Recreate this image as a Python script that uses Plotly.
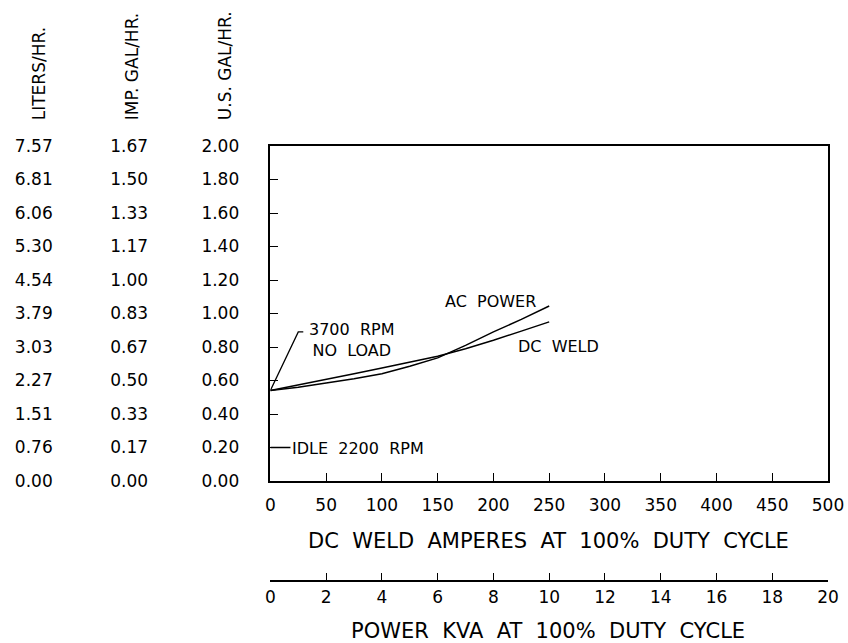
import plotly.graph_objects as go

# ---------------- data ----------------
amps = [0, 25, 50, 75, 100, 125, 150, 175, 200, 225, 250]
dc_weld = [0.54, 0.572, 0.605, 0.64, 0.675, 0.71, 0.745, 0.79, 0.84, 0.895, 0.95]
ac_power = [0.54, 0.56, 0.585, 0.61, 0.64, 0.685, 0.735, 0.81, 0.89, 0.965, 1.045]

us_gal_ticks = [0.0, 0.2, 0.4, 0.6, 0.8, 1.0, 1.2, 1.4, 1.6, 1.8, 2.0]
us_gal_labels = ["0.00", "0.20", "0.40", "0.60", "0.80", "1.00", "1.20", "1.40", "1.60", "1.80", "2.00"]
imp_gal_labels = ["0.00", "0.17", "0.33", "0.50", "0.67", "0.83", "1.00", "1.17", "1.33", "1.50", "1.67"]
liters_labels = ["0.00", "0.76", "1.51", "2.27", "3.03", "3.79", "4.54", "5.30", "6.06", "6.81", "7.57"]
amp_ticks = [0, 50, 100, 150, 200, 250, 300, 350, 400, 450, 500]
kva_ticks = [0, 2, 4, 6, 8, 10, 12, 14, 16, 18, 20]

headers = ["LITERS/HR.", "IMP.\u00a0GAL/HR.", "U.S.\u00a0GAL/HR."]
x_title = "DC\u00a0\u00a0WELD\u00a0\u00a0AMPERES\u00a0\u00a0AT\u00a0\u00a0100%\u00a0\u00a0DUTY\u00a0\u00a0CYCLE"
x2_title = "POWER\u00a0\u00a0KVA\u00a0\u00a0AT\u00a0\u00a0100%\u00a0\u00a0DUTY\u00a0\u00a0CYCLE"

# in-plot labels (text, x amps, y US gal/hr)
label_text = ["AC\u00a0\u00a0POWER", "DC\u00a0\u00a0WELD", "3700\u00a0\u00a0RPM<br>NO\u00a0\u00a0LOAD", "IDLE\u00a0\u00a02200\u00a0\u00a0RPM"]
label_x = [197, 221, 73, 18.5]
label_y = [1.072, 0.806, 0.84, 0.195]
label_anchor = ["center", "left", "center", "left"]

# leader lines (x amps, y US gal/hr)
leader_noload_x = [0, 25, 29.5]
leader_noload_y = [0.54, 0.89, 0.89]
leader_idle_x = [0, 18]
leader_idle_y = [0.2, 0.2]

# ---------------- layout geometry ----------------
W, H = 848, 643
ML, MR, MT, MB = 0, 20, 146, 62
PW = W - ML - MR
PH = H - MT - MB


def px_x(px):
    return (px - ML) / PW


def px_y(py):
    return (H - MB - py) / PH


FONT = "DejaVu Sans, sans-serif"
BLACK = "#000000"

fig = go.Figure()

fig.add_trace(go.Scatter(x=amps, y=ac_power, mode="lines", name="AC POWER",
                         line=dict(color=BLACK, width=1.5), xaxis="x", yaxis="y"))
fig.add_trace(go.Scatter(x=amps, y=dc_weld, mode="lines", name="DC WELD",
                         line=dict(color=BLACK, width=1.5), xaxis="x", yaxis="y"))

# leader lines
fig.add_trace(go.Scatter(x=leader_noload_x, y=leader_noload_y, mode="lines",
                         line=dict(color=BLACK, width=1.3), hoverinfo="skip", xaxis="x", yaxis="y"))
fig.add_trace(go.Scatter(x=leader_idle_x, y=leader_idle_y, mode="lines",
                         line=dict(color=BLACK, width=1.3), hoverinfo="skip", xaxis="x", yaxis="y"))

# empty traces to bind the extra axes
fig.add_trace(go.Scatter(x=kva_ticks, y=[None] * len(kva_ticks), mode="lines",
                         hoverinfo="skip", xaxis="x2", yaxis="y"))
fig.add_trace(go.Scatter(x=[None] * len(us_gal_ticks), y=us_gal_ticks, mode="lines",
                         hoverinfo="skip", xaxis="x", yaxis="y2"))
fig.add_trace(go.Scatter(x=[None] * len(us_gal_ticks), y=us_gal_ticks, mode="lines",
                         hoverinfo="skip", xaxis="x", yaxis="y3"))

tick_font = dict(family=FONT, size=17, color=BLACK)
x_dom = [px_x(267), 1]
y_dom = [px_y(481), 1]

fig.update_layout(
    width=W, height=H,
    margin=dict(l=ML, r=MR, t=MT, b=MB, pad=0),
    paper_bgcolor="white", plot_bgcolor="white",
    showlegend=False,
    font=dict(family=FONT, color=BLACK),
    xaxis=dict(domain=x_dom, range=[0, 500], tickvals=amp_ticks, ticktext=[str(v) for v in amp_ticks],
               ticks="inside", ticklen=8, tickwidth=1.3, tickcolor=BLACK,
               showline=True, linewidth=1.5, linecolor=BLACK, mirror=True,
               showgrid=False, zeroline=False, tickfont=tick_font, ticklabelstandoff=8),
    xaxis2=dict(overlaying="x", anchor="free", position=0, side="bottom", range=[0, 20],
                tickvals=kva_ticks, ticktext=[str(v) for v in kva_ticks],
                ticks="inside", ticklen=7, tickwidth=1.3, tickcolor=BLACK,
                showline=True, linewidth=1.5, linecolor=BLACK,
                showgrid=False, zeroline=False, tickfont=tick_font, ticklabelstandoff=1),
    yaxis=dict(domain=y_dom, range=[0, 2], tickvals=us_gal_ticks, ticktext=us_gal_labels,
               ticks="inside", ticklen=8, tickwidth=1.3, tickcolor=BLACK,
               showline=True, linewidth=1.5, linecolor=BLACK, mirror=True,
               showgrid=False, zeroline=False, tickfont=tick_font, ticklabelstandoff=26),
    yaxis2=dict(overlaying="y", anchor="free", position=px_x(48), side="left", range=[0, 2],
                tickvals=us_gal_ticks, ticktext=liters_labels, ticks="", showline=False,
                showgrid=False, zeroline=False, tickfont=tick_font),
    yaxis3=dict(overlaying="y", anchor="free", position=px_x(144), side="left", range=[0, 2],
                tickvals=us_gal_ticks, ticktext=imp_gal_labels, ticks="", showline=False,
                showgrid=False, zeroline=False, tickfont=tick_font),
)

annotations = []
# column headers (rotated)
for txt, cx in zip(headers, [35, 128, 222]):
    annotations.append(dict(text=txt, textangle=-90, xref="paper", yref="paper",
                            x=px_x(cx), y=px_y(122), xanchor="center", yanchor="bottom",
                            showarrow=False, font=dict(family=FONT, size=17, color=BLACK)))
# axis titles
annotations.append(dict(text=x_title, xref="paper", yref="paper", x=px_x((267 + 828) / 2 - 1),
                        y=px_y(541), xanchor="center", yanchor="middle", showarrow=False,
                        font=dict(family=FONT, size=21, color=BLACK)))
annotations.append(dict(text=x2_title, xref="paper", yref="paper", x=px_x((267 + 828) / 2 - 1),
                        y=px_y(631), xanchor="center", yanchor="middle", showarrow=False,
                        font=dict(family=FONT, size=21, color=BLACK)))
# in-plot labels
for t, xv, yv, anc in zip(label_text, label_x, label_y, label_anchor):
    annotations.append(dict(text=t, x=xv, y=yv, xref="x", yref="y", xanchor=anc, yanchor="middle",
                            align="center", showarrow=False, borderpad=0,
                            font=dict(family=FONT, size=16, color=BLACK)))

fig.update_layout(annotations=annotations)

fig.write_html("out.html", config={"displayModeBar": False},
               post_script="document.body.style.margin='0px';")
